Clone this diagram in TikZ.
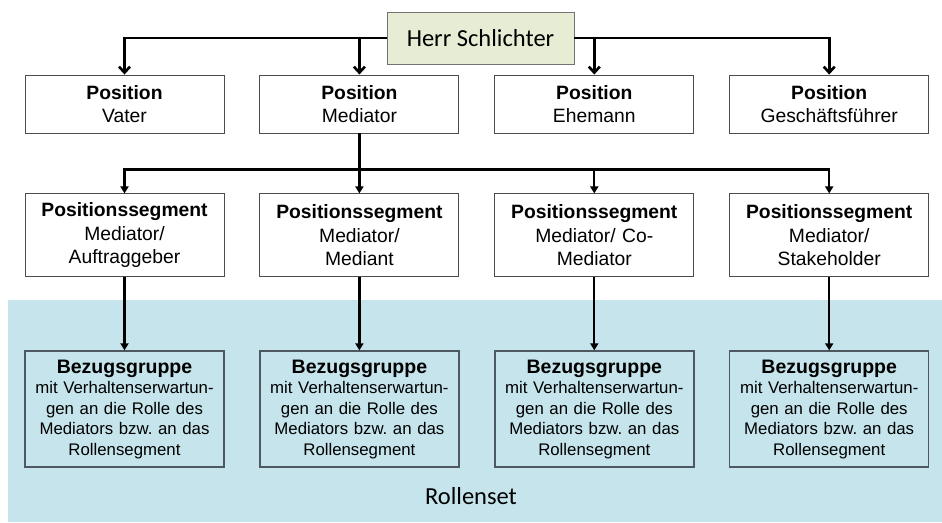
\documentclass[tikz,border=0pt]{standalone}
\usepackage{fontspec}
\setmainfont{Liberation Sans}
\newfontfamily\calibri{Carlito}
\usetikzlibrary{positioning,arrows.meta,backgrounds}
\definecolor{schlichtergreen}{RGB}{230,237,212}
\definecolor{rollenblue}{RGB}{197,228,235}
\definecolor{bezgrey}{RGB}{78,88,96}
\frenchspacing

\begin{document}
\begin{tikzpicture}[x=1pt,y=-1pt,
	topbox/.style={draw=black!55, line width=0.9pt, fill=schlichtergreen, minimum width=187pt, minimum height=52pt, font=\calibri\fontsize{24.5}{28}\selectfont},
	posbox/.style={draw=black!70, line width=0.9pt, fill=white, text width=190pt, inner xsep=4.5pt, align=center, minimum height=58pt, font=\fontsize{19.3}{22.5}\selectfont},
	segbox/.style={posbox, minimum height=83pt, font=\fontsize{19.3}{23.5}\selectfont},
	bezbox/.style={draw=bezgrey, line width=1.5pt, fill=rollenblue, text width=190pt, inner xsep=4.5pt, align=center, minimum height=116pt, font=\fontsize{16.8}{20.5}\selectfont},
	toparrow/.style={line width=2.6pt, -{Straight Barb[length=6pt,width=11pt]}},
	segline/.style={line width=2.2pt},
	segarrow/.style={segline, -{Triangle[length=7pt,width=8pt]}}
]
	\useasboundingbox (0,0) rectangle (942,522);
	\fill[rollenblue] (8,300) rectangle (942,522);
	\node[] (rollenset) at (471,496) {\calibri\fontsize{24.5}{28}\selectfont Rollenset};

	\node[topbox] (schlichter) at (480.5,38) {Herr Schlichter};

	\node[posbox] (vater) at (124.5,104) {\textbf{Position}\\Vater};
	\node[posbox, right = 35pt of vater] (mediator) {\textbf{Position}\\Mediator};
	\node[posbox, right = 35pt of mediator] (ehemann) {\textbf{Position}\\Ehemann};
	\node[posbox, right = 35pt of ehemann] (gf) {\textbf{Position}\\Geschäftsführer};

	\node[segbox, below = 60pt of vater] (seg1) {\textbf{Positionssegment}\\Mediator/\\Auftraggeber};
	\node[segbox, below = 60pt of mediator] (seg2) {\textbf{Positionssegment}\\Mediator/\\Mediant};
	\node[segbox, below = 60pt of ehemann] (seg3) {\textbf{Positionssegment}\\Mediator/ Co-\\Mediator};
	\node[segbox, below = 60pt of gf] (seg4) {\textbf{Positionssegment}\\Mediator/\\Stakeholder};

	\node[bezbox, below = 73pt of seg1] (bez1) {{\bfseries\fontsize{19.5}{22}\selectfont Bezugsgruppe}\\mit Verhaltenserwartun-\\gen an die Rolle des\\Mediators bzw. an das\\Rollensegment};
	\node[bezbox, below = 73pt of seg2] (bez2) {{\bfseries\fontsize{19.5}{22}\selectfont Bezugsgruppe}\\mit Verhaltenserwartun-\\gen an die Rolle des\\Mediators bzw. an das\\Rollensegment};
	\node[bezbox, below = 73pt of seg3] (bez3) {{\bfseries\fontsize{19.5}{22}\selectfont Bezugsgruppe}\\mit Verhaltenserwartun-\\gen an die Rolle des\\Mediators bzw. an das\\Rollensegment};
	\node[bezbox, below = 73pt of seg4] (bez4) {{\bfseries\fontsize{19.5}{22}\selectfont Bezugsgruppe}\\mit Verhaltenserwartun-\\gen an die Rolle des\\Mediators bzw. an das\\Rollensegment};

	\draw[toparrow] (schlichter.west) -| (vater.north);
	\draw[toparrow] (schlichter.east) -| (gf.north);
	\draw[toparrow] (schlichter.west -| mediator.north) -- (mediator.north);
	\draw[toparrow] (schlichter.east -| ehemann.north) -- (ehemann.north);

	\coordinate[below = 36pt of mediator.south] (split);
	\draw[segline] (mediator.south) -- (split);
	\draw[segarrow] (split) -| (seg1.north);
	\draw[segarrow] (split) -- (seg2.north);
	\draw[segarrow] (split) -| (seg3.north);
	\draw[segarrow] (split) -| (seg4.north);

	\draw[segarrow] (seg1) -- (bez1);
	\draw[segarrow] (seg2) -- (bez2);
	\draw[segarrow] (seg3) -- (bez3);
	\draw[segarrow] (seg4) -- (bez4);
\end{tikzpicture}
\end{document}
